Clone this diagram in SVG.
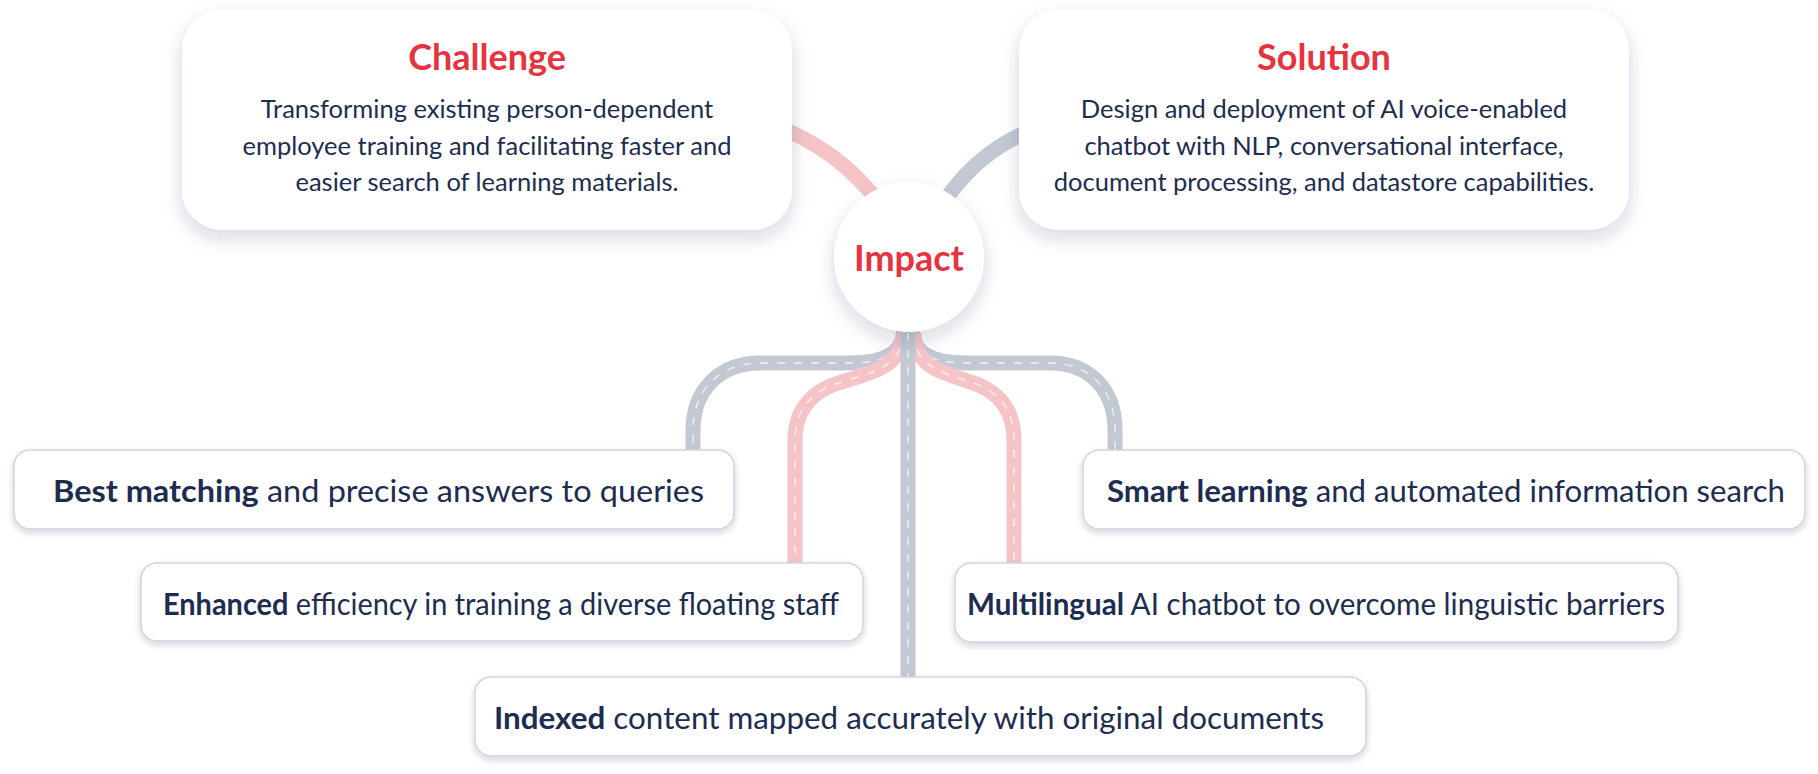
<svg xmlns="http://www.w3.org/2000/svg" width="1818" height="774" viewBox="0 0 1818 774">
<defs>
<filter id="sh" x="-10%" y="-20%" width="120%" height="150%"><feDropShadow dx="0" dy="8" stdDeviation="9" flood-color="#1e2d4f" flood-opacity="0.18"/></filter>
<filter id="sh2" x="-5%" y="-20%" width="110%" height="150%"><feDropShadow dx="0" dy="3" stdDeviation="3" flood-color="#1e2d4f" flood-opacity="0.2"/></filter>
</defs>
<style>
.t{font-family:Lato,"Open Sans",sans-serif;fill:#1e2d4f}
.h{font-family:Lato,sans-serif;font-weight:700;fill:#e5333f;font-size:36px;text-anchor:middle}
.p{font-size:25.5px;text-anchor:middle}
.b{font-size:31px}
.bold{font-weight:700}
.box{fill:#fff;filter:url(#sh)}
.bar{fill:#fff;stroke:#cfd5de;stroke-width:1.5;filter:url(#sh2)}
.g{fill:none;stroke:#c3c9d2;stroke-width:15}
.r{fill:none;stroke:#f6c4c7;stroke-width:15}
.d{fill:none;stroke:#fff;stroke-width:1.3;stroke-dasharray:8 9;opacity:.8}
</style>
<g id="connectors">
<path class="r" d="M760,120 C820,140 855,170 885,210"/>
<path class="g" d="M1045,125 C1000,140 970,165 945,200"/>
<path class="g" d="M904,330 C904,355 880,363 850,363 L760,363 C720,363 693,390 693,430 L693,455"/>
<path class="d" d="M904,330 C904,355 880,363 850,363 L760,363 C720,363 693,390 693,430 L693,455"/>
<path class="g" d="M912,330 C912,355 936,363 966,363 L1050,363 C1090,363 1115,390 1115,430 L1115,455"/>
<path class="d" d="M912,330 C912,355 936,363 966,363 L1050,363 C1090,363 1115,390 1115,430 L1115,455"/>
<path class="r" d="M903,333 C903,372 860,374 830,386 C806,397 795,415 795,440 L795,566"/>
<path class="d" d="M903,333 C903,372 860,374 830,386 C806,397 795,415 795,440 L795,566"/>
<path class="r" d="M914,333 C914,372 953,374 981,386 C1004,397 1014,415 1014,440 L1014,566"/>
<path class="d" d="M914,333 C914,372 953,374 981,386 C1004,397 1014,415 1014,440 L1014,566"/>
<path class="g" d="M908,333 L908,680"/>
<path class="d" d="M908,333 L908,680"/>
</g>
<g id="challenge">
<rect class="box" x="182" y="10" width="610" height="220" rx="40"/>
<text class="h" x="487" y="70">Challenge</text>
<text class="t p" x="487" y="118">Transforming existing person-dependent</text>
<text class="t p" x="487" y="155">employee training and facilitating faster and</text>
<text class="t p" x="487" y="191">easier search of learning materials.</text>
</g>
<g id="solution">
<rect class="box" x="1019" y="10" width="610" height="220" rx="40"/>
<text class="h" x="1324" y="70">Solution</text>
<text class="t p" x="1324" y="118">Design and deployment of AI voice-enabled</text>
<text class="t p" x="1324" y="155">chatbot with NLP, conversational interface,</text>
<text class="t p" x="1324" y="191">document processing, and datastore capabilities.</text>
</g>
<g id="impact">
<circle cx="909" cy="257" r="75" fill="#fff" filter="url(#sh)"/>
<text class="h" x="909" y="271" font-size="40">Impact</text>
</g>
<g id="best">
<rect class="bar" x="14" y="450" width="720" height="79" rx="16"/>
<text class="t b" x="53" y="502" textLength="651" lengthAdjust="spacingAndGlyphs"><tspan class="bold">Best matching</tspan> and precise answers to queries</text>
</g>
<g id="smart">
<rect class="bar" x="1083" y="450" width="722" height="79" rx="16"/>
<text class="t b" x="1107" y="502" textLength="678" lengthAdjust="spacingAndGlyphs"><tspan class="bold">Smart learning</tspan> and automated information search</text>
</g>
<g id="enhanced">
<rect class="bar" x="141" y="563" width="722" height="78" rx="16"/>
<text class="t b" x="163" y="615" textLength="676" lengthAdjust="spacingAndGlyphs"><tspan class="bold">Enhanced</tspan> efficiency in training a diverse floating staff</text>
</g>
<g id="multilingual">
<rect class="bar" x="955" y="563" width="723" height="79" rx="16"/>
<text class="t b" x="967" y="615" textLength="698" lengthAdjust="spacingAndGlyphs"><tspan class="bold">Multilingual</tspan> AI chatbot to overcome linguistic barriers</text>
</g>
<g id="indexed">
<rect class="bar" x="475" y="677" width="891" height="79" rx="16"/>
<text class="t b" x="494" y="729" textLength="830" lengthAdjust="spacingAndGlyphs"><tspan class="bold">Indexed</tspan> content mapped accurately with original documents</text>
</g>
</svg>
